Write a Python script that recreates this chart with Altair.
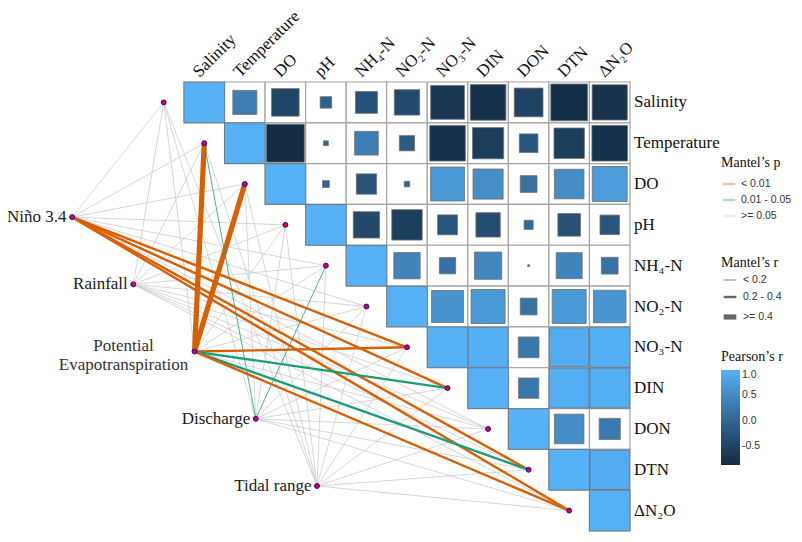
import altair as alt
import pandas as pd

# ---------------- data ----------------
species = ["Salinity", "Temperature", "DO", "pH", "NH₄-N", "NO₂-N",
           "NO₃-N", "DIN", "DON", "DTN", "ΔN₂O"]

# Pearson's r, upper triangle (row starts at the diagonal)
r_salinity = [1, 0.35, -0.46, -0.08, -0.29, -0.39, -0.69, -0.77, -0.50, -0.82, -0.75]
r_temperature = [1, -0.87, -0.014, 0.34, -0.14, -0.77, -0.59, -0.21, -0.56, -0.77]
r_do = [1, -0.028, -0.25, -0.018, 0.70, 0.55, 0.17, 0.53, 0.74]
r_ph = [1, -0.42, -0.56, -0.24, -0.36, 0.05, -0.31, -0.23]
r_nh4 = [1, 0.42, 0.16, 0.45, 0.002, 0.41, 0.17]
r_no2 = [1, 0.62, 0.70, 0.17, 0.70, 0.64]
r_no3 = [1, 0.97, 0.26, 0.93, 0.98]
r_din = [1, 0.25, 0.96, 0.96]
r_don = [1, 0.53, 0.27]
r_dtn = [1, 0.94]
r_dn2o = [1]
r_rows = [r_salinity, r_temperature, r_do, r_ph, r_nh4, r_no2,
          r_no3, r_din, r_don, r_dtn, r_dn2o]

env_names = ["Niño 3.4", "Rainfall", "Potential\nEvapotranspiration",
             "Discharge", "Tidal range"]

# Mantel's p class per species: a = < 0.01, b = 0.01 - 0.05, c = >= 0.05
nino_p      = ["c", "c", "c", "c", "c", "c", "a", "a", "c", "a", "a"]
rainfall_p  = ["c", "c", "c", "c", "c", "c", "c", "c", "c", "c", "c"]
pet_p       = ["c", "a", "a", "c", "c", "c", "a", "b", "c", "b", "a"]
discharge_p = ["c", "b", "c", "c", "b", "c", "c", "c", "c", "c", "c"]
tidal_p     = ["c", "c", "c", "c", "c", "c", "c", "c", "c", "c", "c"]

# Mantel's r class per species: s = < 0.2, m = 0.2 - 0.4, l = >= 0.4
nino_r      = ["s", "s", "s", "s", "s", "s", "m", "m", "s", "m", "m"]
rainfall_r  = ["s", "s", "s", "s", "s", "s", "s", "s", "s", "s", "s"]
pet_r       = ["s", "l", "l", "s", "s", "s", "m", "m", "s", "m", "m"]
discharge_r = ["s", "s", "s", "s", "s", "s", "s", "s", "s", "s", "s"]
tidal_r     = ["s", "s", "s", "s", "s", "s", "s", "s", "s", "s", "s"]

p_lists = [nino_p, rainfall_p, pet_p, discharge_p, tidal_p]
r_lists = [nino_r, rainfall_r, pet_r, discharge_r, tidal_r]

P_LABEL = {"a": "< 0.01", "b": "0.01 - 0.05", "c": ">= 0.05"}
R_LABEL = {"s": "< 0.2", "m": "0.2 - 0.4", "l": ">= 0.4"}

# ---------------- tables (layout from indices) ----------------
n = len(species)
cells = []
for i, rr in enumerate(r_rows):
    for k, r in enumerate(rr):
        j = i + k
        cells.append(dict(row=species[i], col=species[j], x=j, x2=j + 1,
                          y=i, y2=i + 1, cx=j + 0.5, cy=i + 0.5,
                          r=r, absr=abs(r)))
cells = pd.DataFrame(cells)

labels_col = pd.DataFrame(dict(name=species, x=[j + 0.45 for j in range(n)],
                               y=[-0.03] * n))
labels_row = pd.DataFrame(dict(name=species, x=[n + 0.1] * n,
                               y=[i + 0.5 for i in range(n)]))

def env_pos(k):
    return -2.76 + 1.51 * k, 3.31 + 1.647 * k

lines = []
for k, name in enumerate(env_names):
    ex, ey = env_pos(k)
    for j in range(n):
        pc = p_lists[k][j]
        lines.append(dict(env=name, sp=species[j], x=ex, y=ey,
                          x2=j - 0.5, y2=j + 0.5,
                          p=P_LABEL[pc], rcat=R_LABEL[r_lists[k][j]],
                          z=0 if pc == "c" else 1))
lines = pd.DataFrame(lines).sort_values("z", kind="stable")

sp_nodes = pd.DataFrame(dict(name=species, x=[j - 0.5 for j in range(n)],
                             y=[j + 0.5 for j in range(n)]))
env_nodes = pd.DataFrame(dict(name=env_names,
                              x=[env_pos(k)[0] for k in range(len(env_names))],
                              y=[env_pos(k)[1] for k in range(len(env_names))]))

# ---------------- scales ----------------
W, H = 446, 449
xs = alt.Scale(domain=[0, n], nice=False, zero=False)
ys = alt.Scale(domain=[0, n], nice=False, zero=False, reverse=True)
SERIF = "Liberation Serif"

grid = alt.Chart(cells).mark_rect(fill="white", stroke="#A3A3A3", strokeWidth=1.2).encode(
    x=alt.X("x:Q", scale=xs, axis=None), x2="x2:Q",
    y=alt.Y("y:Q", scale=ys, axis=None), y2="y2:Q")

squares = alt.Chart(cells).mark_square(stroke="#707070", strokeWidth=0.8, opacity=1).encode(
    x=alt.X("cx:Q", scale=xs, axis=None),
    y=alt.Y("cy:Q", scale=ys, axis=None),
    size=alt.Size("absr:Q", scale=alt.Scale(domain=[0, 1], range=[0, 1650], zero=True), legend=None),
    fill=alt.Fill("r:Q", scale=alt.Scale(domain=[-0.87, 1], range=["#132B43", "#56B1F7"], interpolate="lab"),
                  legend=alt.Legend(title="Pearson’s r", orient="none", legendX=537, legendY=268,
                                    values=[-0.5, 0, 0.5, 1.0],
                                    labelExpr="replace(format(datum.value, '.1f'), '\u2212', '-')",
                                    gradientLength=95,
                                    gradientThickness=19, direction="vertical", gradientStrokeWidth=0)))

links = alt.Chart(lines).mark_rule(opacity=1).encode(
    x=alt.X("x:Q", scale=xs, axis=None), y=alt.Y("y:Q", scale=ys, axis=None),
    x2="x2:Q", y2="y2:Q",
    stroke=alt.Stroke("p:N", scale=alt.Scale(domain=["< 0.01", "0.01 - 0.05", ">= 0.05"],
                                             range=["#D95F02", "#1B9E77", "#CCCCCC"]),
                      legend=alt.Legend(title="Mantel’s p", orient="none", legendX=537, legendY=74,
                                        symbolType="stroke", symbolStrokeWidth=2.5, symbolOpacity=0.35,
                                        symbolSize=160, rowPadding=2)),
    strokeWidth=alt.StrokeWidth("rcat:N", scale=alt.Scale(type="ordinal",
                                                        domain=["< 0.2", "0.2 - 0.4", ">= 0.4"],
                                                        range=[0.8, 2.4, 5.2]),
                                legend=alt.Legend(title="Mantel’s r", orient="none", legendX=537, legendY=174,
                                                  symbolType="stroke", symbolStrokeColor="#666666",
                                                  symbolSize=160, rowPadding=3, titlePadding=3)),
    order=alt.Order("z:Q"))

nodes_sp = alt.Chart(sp_nodes).mark_point(filled=True, fill="red", stroke="blue", strokeWidth=1,
                                          size=24, opacity=1, shape="circle").encode(
    x=alt.X("x:Q", scale=xs, axis=None), y=alt.Y("y:Q", scale=ys, axis=None))
nodes_env = alt.Chart(env_nodes).mark_point(filled=True, fill="red", stroke="blue", strokeWidth=1,
                                            size=24, opacity=1, shape="circle").encode(
    x=alt.X("x:Q", scale=xs, axis=None), y=alt.Y("y:Q", scale=ys, axis=None))

col_text = alt.Chart(labels_col).mark_text(angle=315, align="left", baseline="bottom",
                                           font=SERIF, fontSize=17, color="#111").encode(
    x=alt.X("x:Q", scale=xs, axis=None), y=alt.Y("y:Q", scale=ys, axis=None), text="name:N")
row_text = alt.Chart(labels_row).mark_text(align="left", baseline="middle",
                                           font=SERIF, fontSize=17, color="#111").encode(
    x=alt.X("x:Q", scale=xs, axis=None), y=alt.Y("y:Q", scale=ys, axis=None), text="name:N")

env_single = env_nodes[~env_nodes["name"].str.contains("\n")]
env_multi = env_nodes[env_nodes["name"].str.contains("\n")]
env_text = alt.Chart(env_single).mark_text(align="right", baseline="middle", dx=-5.5,
                                           font=SERIF, fontSize=17, color="#1a1a1a").encode(
    x=alt.X("x:Q", scale=xs, axis=None), y=alt.Y("y:Q", scale=ys, axis=None), text="name:N")
env_text2 = alt.Chart(env_multi).mark_text(align="center", baseline="middle", dx=-71, dy=-6,
                                           lineBreak="\n", font=SERIF, fontSize=17, color="#333").encode(
    x=alt.X("x:Q", scale=xs, axis=None), y=alt.Y("y:Q", scale=ys, axis=None), text="name:N")

chart = alt.layer(grid, links, squares, nodes_sp, nodes_env, col_text, row_text,
                  env_text, env_text2).resolve_scale(
    size="independent"
).properties(
    width=W, height=H,
    autosize=alt.AutoSizeParams(type="none"),
    padding={"left": 176, "top": 74, "right": 164, "bottom": 3},
).configure_view(stroke=None).configure_legend(
    titleFont=SERIF, titleFontSize=14, titleFontWeight="normal", titleColor="#111",
    labelFont="Liberation Sans", labelFontSize=10.5, labelColor="#333",
    titlePadding=6, rowPadding=5, padding=0
)

chart.save("out.html", embed_options={"renderer": "svg", "actions": False})
